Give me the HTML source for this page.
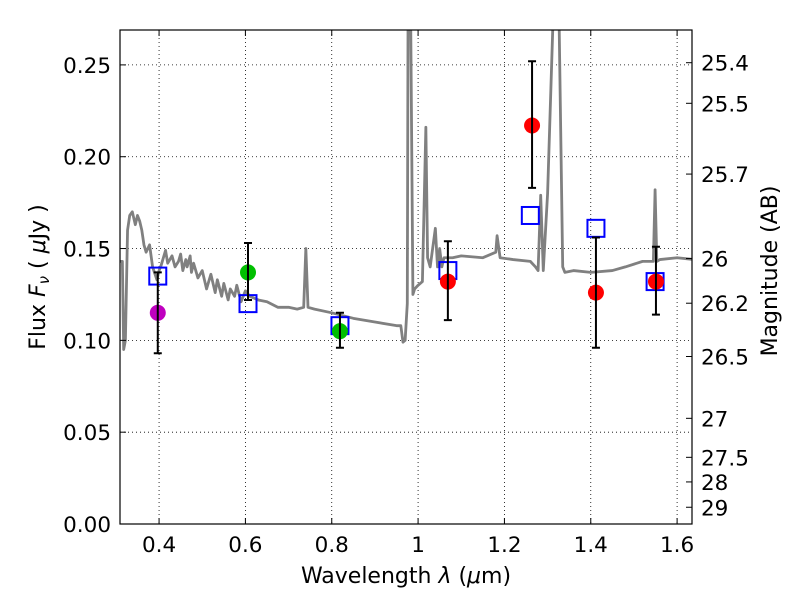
<!DOCTYPE html>
<html><head><meta charset="utf-8"><style>
body{margin:0;background:#fff}
svg text{font-family:"DejaVu Sans","Liberation Sans",sans-serif;fill:#000}
</style></head><body>
<svg id="chart" width="800" height="600" xmlns="http://www.w3.org/2000/svg">
<rect width="800" height="600" fill="#fff"/>
<g id="grid"></g>
<g id="spec"></g>
<g id="marks"></g>
<rect x="120" y="30" width="572" height="494" fill="none" stroke="#000" stroke-width="1.2"/>
<g id="axes"></g>
<text x="406" y="583" font-size="22" text-anchor="middle">Wavelength  <tspan font-style="italic">λ</tspan> (<tspan font-style="italic">μ</tspan>m)</text>
<text transform="translate(45,277) rotate(-90)" font-size="22" text-anchor="middle">Flux  <tspan font-style="italic">F</tspan><tspan font-style="italic" font-size="15" dy="4">ν</tspan><tspan dy="-4">  ( </tspan><tspan font-style="italic">μ</tspan>Jy )</text>
<text transform="translate(777,271) rotate(-90)" font-size="22" text-anchor="middle">Magnitude (AB)</text>
</svg>
<script>
const xTicks=[0.4,0.6,0.8,1.0,1.2,1.4,1.6];
const xTickLabels=["0.4","0.6","0.8","1","1.2","1.4","1.6"];
const yTicks=[0,0.05,0.10,0.15,0.20,0.25];
const yTickLabels=["0.00","0.05","0.10","0.15","0.20","0.25"];
const magTicks=[25.4,25.5,25.7,26,26.2,26.5,27,27.5,28,29];
const specWave=[0.31,0.315,0.318,0.322,0.327,0.332,0.338,0.345,0.35,0.355,0.36,0.365,0.37,0.378,0.385,0.395,0.40,0.405,0.415,0.42,0.43,0.437,0.445,0.45,0.455,0.462,0.465,0.472,0.475,0.48,0.49,0.5,0.51,0.52,0.53,0.535,0.545,0.55,0.56,0.565,0.575,0.58,0.59,0.60,0.61,0.63,0.65,0.675,0.7,0.72,0.735,0.74,0.745,0.76,0.8,0.85,0.9,0.95,0.96,0.965,0.97,0.975,0.977,0.982,0.988,0.992,1.0,1.01,1.018,1.022,1.028,1.04,1.045,1.05,1.055,1.06,1.07,1.08,1.1,1.15,1.18,1.183,1.19,1.22,1.26,1.272,1.278,1.284,1.29,1.3,1.316,1.325,1.335,1.34,1.36,1.4,1.45,1.48,1.52,1.545,1.549,1.553,1.56,1.6,1.64];
const specFlux=[0.143,0.143,0.095,0.10,0.16,0.168,0.17,0.163,0.168,0.165,0.16,0.152,0.148,0.152,0.14,0.133,0.138,0.141,0.149,0.142,0.146,0.14,0.143,0.147,0.138,0.144,0.14,0.146,0.137,0.142,0.134,0.138,0.128,0.136,0.126,0.133,0.124,0.131,0.122,0.128,0.124,0.13,0.121,0.127,0.124,0.122,0.121,0.118,0.118,0.117,0.118,0.15,0.118,0.117,0.115,0.112,0.11,0.108,0.108,0.099,0.1,0.12,0.3,0.3,0.125,0.128,0.13,0.132,0.216,0.145,0.14,0.161,0.14,0.15,0.14,0.145,0.145,0.145,0.146,0.145,0.148,0.157,0.145,0.144,0.143,0.14,0.138,0.179,0.138,0.18,0.3,0.3,0.14,0.137,0.138,0.137,0.138,0.14,0.143,0.143,0.182,0.143,0.144,0.145,0.144];
const ptWave=[0.397,0.606,0.819,1.069,1.264,1.412,1.551];
const ptFlux=[0.115,0.137,0.105,0.132,0.217,0.126,0.132];
const ptErrHi=[0.137,0.153,0.115,0.154,0.252,0.156,0.151];
const ptErrLo=[0.093,0.122,0.096,0.111,0.183,0.096,0.114];
const ptColors=["#bf00bf","#00bf00","#00bf00","#ff0000","#ff0000","#ff0000","#ff0000"];
const sqWave=[0.397,0.606,0.819,1.069,1.26,1.412,1.549];
const sqFlux=[0.135,0.12,0.108,0.138,0.168,0.161,0.132];

const NS="http://www.w3.org/2000/svg";
const L=120,R=692,T=30,B=524,X0=0.3095,X1=1.6345,Y0=0,Y1=0.269;
const sx=v=>L+(v-X0)/(X1-X0)*(R-L);
const sy=v=>B-(v-Y0)/(Y1-Y0)*(B-T);
function mk(p,tag,a){const e=document.createElementNS(NS,tag);for(const k in a)e.setAttribute(k,a[k]);p.appendChild(e);return e;}
const grid=document.getElementById('grid'),axes=document.getElementById('axes');
xTicks.forEach((v,i)=>{const x=sx(v);
 const g=mk(grid,'line',{x1:x,x2:x,y1:T,y2:B,stroke:'#000','stroke-dasharray':'1,3','stroke-width':0.8});
 
 mk(axes,'line',{x1:x,x2:x,y1:B,y2:B-6,stroke:'#000'});mk(axes,'line',{x1:x,x2:x,y1:T,y2:T+6,stroke:'#000'});
 const t=mk(axes,'text',{x:x,y:B+28,'font-size':21.5,'text-anchor':'middle'});t.textContent=xTickLabels[i];
 });
yTicks.forEach((v,i)=>{const y=sy(v);
 const g=mk(grid,'line',{x1:L,x2:R,y1:y,y2:y,stroke:'#000','stroke-dasharray':'1,3','stroke-width':0.8});
 
 mk(axes,'line',{x1:L,x2:L+6,y1:y,y2:y,stroke:'#000'});
 const t=mk(axes,'text',{x:L-9,y:y+8,'font-size':21.5,'text-anchor':'end'});t.textContent=yTickLabels[i];
 });
magTicks.forEach(m=>{const f=Math.pow(10,(23.9-m)/2.5);const y=sy(f);
 mk(axes,'line',{x1:R-6,x2:R,y1:y,y2:y,stroke:'#000'});
 const t=mk(axes,'text',{x:R+9,y:y+8,'font-size':21.5});t.textContent=String(m);
 });
const spec=document.getElementById('spec');
const clip=mk(spec,'clipPath',{id:'pc'});mk(clip,'rect',{x:L,y:T,width:R-L,height:B-T});
const pl=mk(spec,'polyline',{points:specWave.map((w,i)=>sx(w)+','+sy(specFlux[i])).join(' '),fill:'none',stroke:'#808080','stroke-width':2.8,'clip-path':'url(#pc)','stroke-linejoin':'round'});

const marks=document.getElementById('marks');
sqWave.forEach((w,i)=>{const x=sx(w),y=sy(sqFlux[i]);
 const s=mk(marks,'rect',{x:x-8.5,y:y-8.5,width:17,height:17,fill:'none',stroke:'#0000ff','stroke-width':2});
 });
ptWave.forEach((w,i)=>{const x=sx(w);
 const c=mk(marks,'circle',{cx:x,cy:sy(ptFlux[i]),r:8,fill:ptColors[i]});
 
 const yh=sy(ptErrHi[i]),yl=sy(ptErrLo[i]);
 const e=mk(marks,'path',{d:`M${x},${yh}V${yl}M${x-4},${yh}H${x+4}M${x-4},${yl}H${x+4}`,stroke:'#000','stroke-width':2,fill:'none'});
 });
</script>
</body></html>
